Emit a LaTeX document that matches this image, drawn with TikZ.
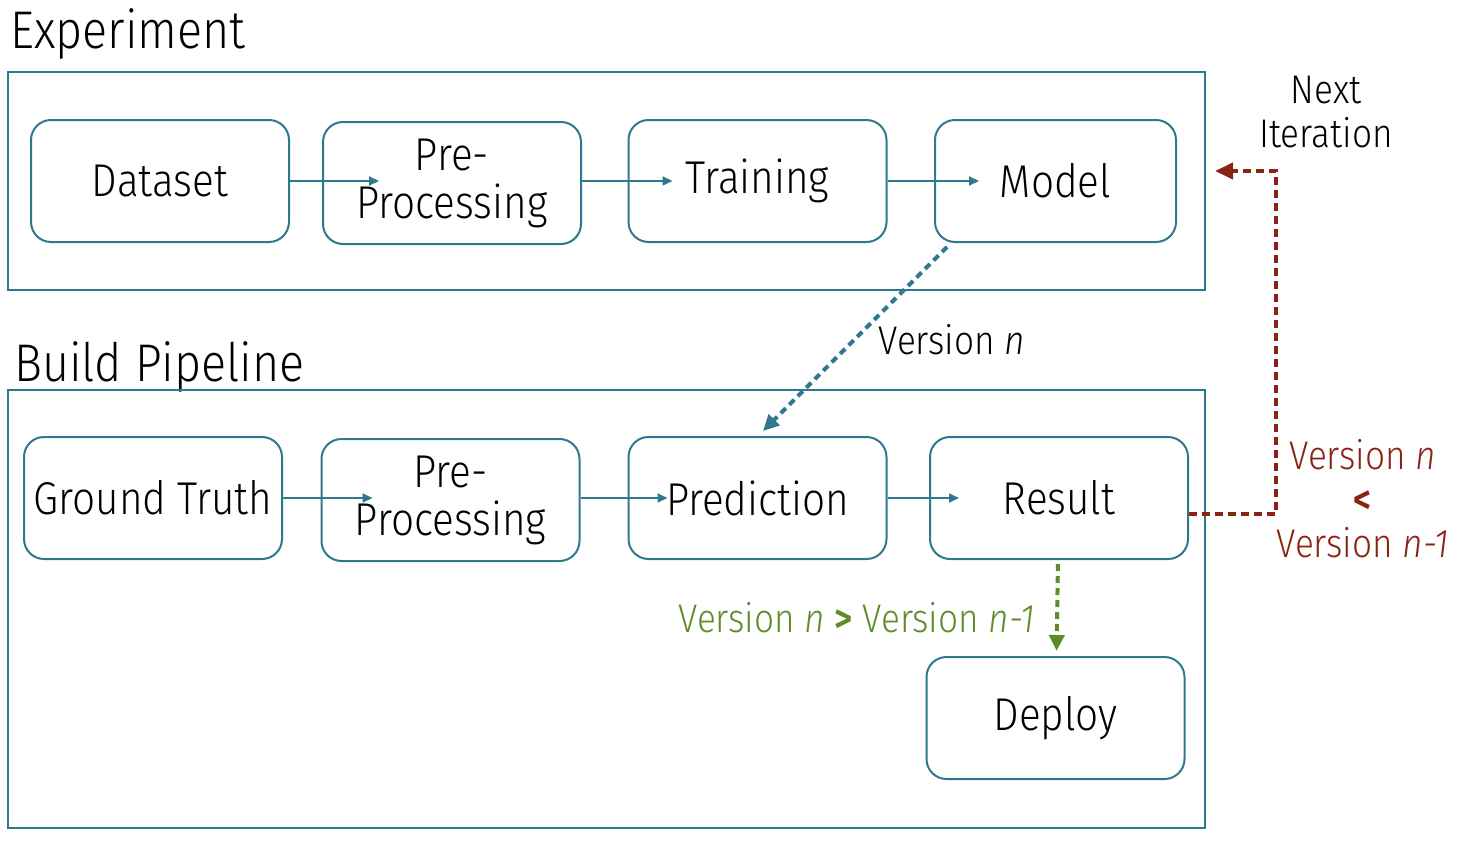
\documentclass[tikz,border=0pt]{standalone}
\usepackage{fontspec}
\setmainfont{Fira Sans Light}[FakeStretch=0.88, BoldFont={Fira Sans SemiBold}]
\usetikzlibrary{arrows.meta,positioning,calc}
\definecolor{pipeblue}{RGB}{47,121,143}
\definecolor{loopred}{RGB}{139,35,20}
\definecolor{deploygreen}{RGB}{94,140,41}

\begin{document}
\begin{tikzpicture}[
  x=0.5pt, y=-0.5pt,
  stage/.style={draw=pipeblue, line width=1pt, rounded corners=10pt, minimum width=129pt, minimum height=61pt, inner sep=0pt, align=center, font=\fontsize{23}{24}\selectfont},
  frame/.style={draw=pipeblue, line width=1pt},
  title/.style={anchor=base west, inner sep=0pt, font=\fontsize{26.5}{28}\selectfont},
  flow/.style={draw=pipeblue, line width=0.9pt, -{Triangle[length=5pt, width=4.5pt]}},
  check/.style={line width=2pt, dash pattern=on 3.5pt off 2.5pt, -{Triangle[length=8pt, width=7.5pt]}},
  note/.style={inner sep=0pt, align=center, font=\fontsize{20}{22}\selectfont}
]
\useasboundingbox (0,0) rectangle (1464,846);

% frames and titles
\node[title] (exptitle) at (10,48) {Experiment};
\draw[frame] (8,72) rectangle (1205,290);
\node[title] (buildtitle) at (14,381) {Build Pipeline};
\draw[frame] (8,390) rectangle (1205,828);

% experiment row
\node[stage] (dataset) at (160,181) {Dataset};
\node[stage, text depth=4pt] (expprep) at (452,183) {Pre-\\Processing};
\node[stage] (training) at (757.5,181) {Training};
\node[stage, minimum width=120.5pt] (model) at (1055.5,181) {Model};

% build row
\node[stage] (groundtruth) at (153,498) {Ground Truth};
\node[stage] (buildprep) at (450.5,500) {Pre-\\Processing};
\node[stage] (prediction) at (757.5,498) {Prediction};
\node[stage] (result) at (1059,498) {Result};
\node[stage] (deploy) at (1055.5,718) {Deploy};

\draw[flow] (dataset.east) -- ($(expprep.west |- dataset.east)+(57,0)$);
\draw[flow] (expprep.east |- training.west) -- ($(training.west)+(45,0)$);
\draw[flow] (training) -- ($(model.west)+(45,0)$);
\draw[flow] (groundtruth.east) -- ($(buildprep.west |- groundtruth.east)+(52,0)$);
\draw[flow] (buildprep.east |- prediction.west) -- ($(prediction.west)+(40,0)$);
\draw[flow] (prediction) -- ($(result.west)+(30,0)$);

% hand-over of the model
\draw[check, pipeblue] ($(model.south west)+(13,4)$) -- ($(prediction.north)+(5.5,-5)$);
\node[note] (handover) at (952,340) {Version \textit{n}};

% worse result: next iteration
\coordinate (loopturn) at (1276,171);
\coordinate (loopback) at (1215,171);
\draw[check, loopred, line width=2pt, dash pattern=on 4pt off 2.5pt, -{Triangle[length=9pt, width=8pt]}]
  ([yshift=-8pt]result.east) -| (loopturn) -- (loopback);
\node[note] (nextit) at (1326,112) {Next\\Iteration};
\node[note, loopred] (worse) at (1363,499) {Version \textit{n}\\\textbf{<}\\Version \textit{n-1}};

% better result: deploy
\draw[check, deploygreen, shorten <=2pt, shorten >=2.5pt] (result) -- (deploy);
\node[note, deploygreen] (better) at (857,618) {Version \textit{n} \textbf{>} Version \textit{n-1}};
\end{tikzpicture}
\end{document}
